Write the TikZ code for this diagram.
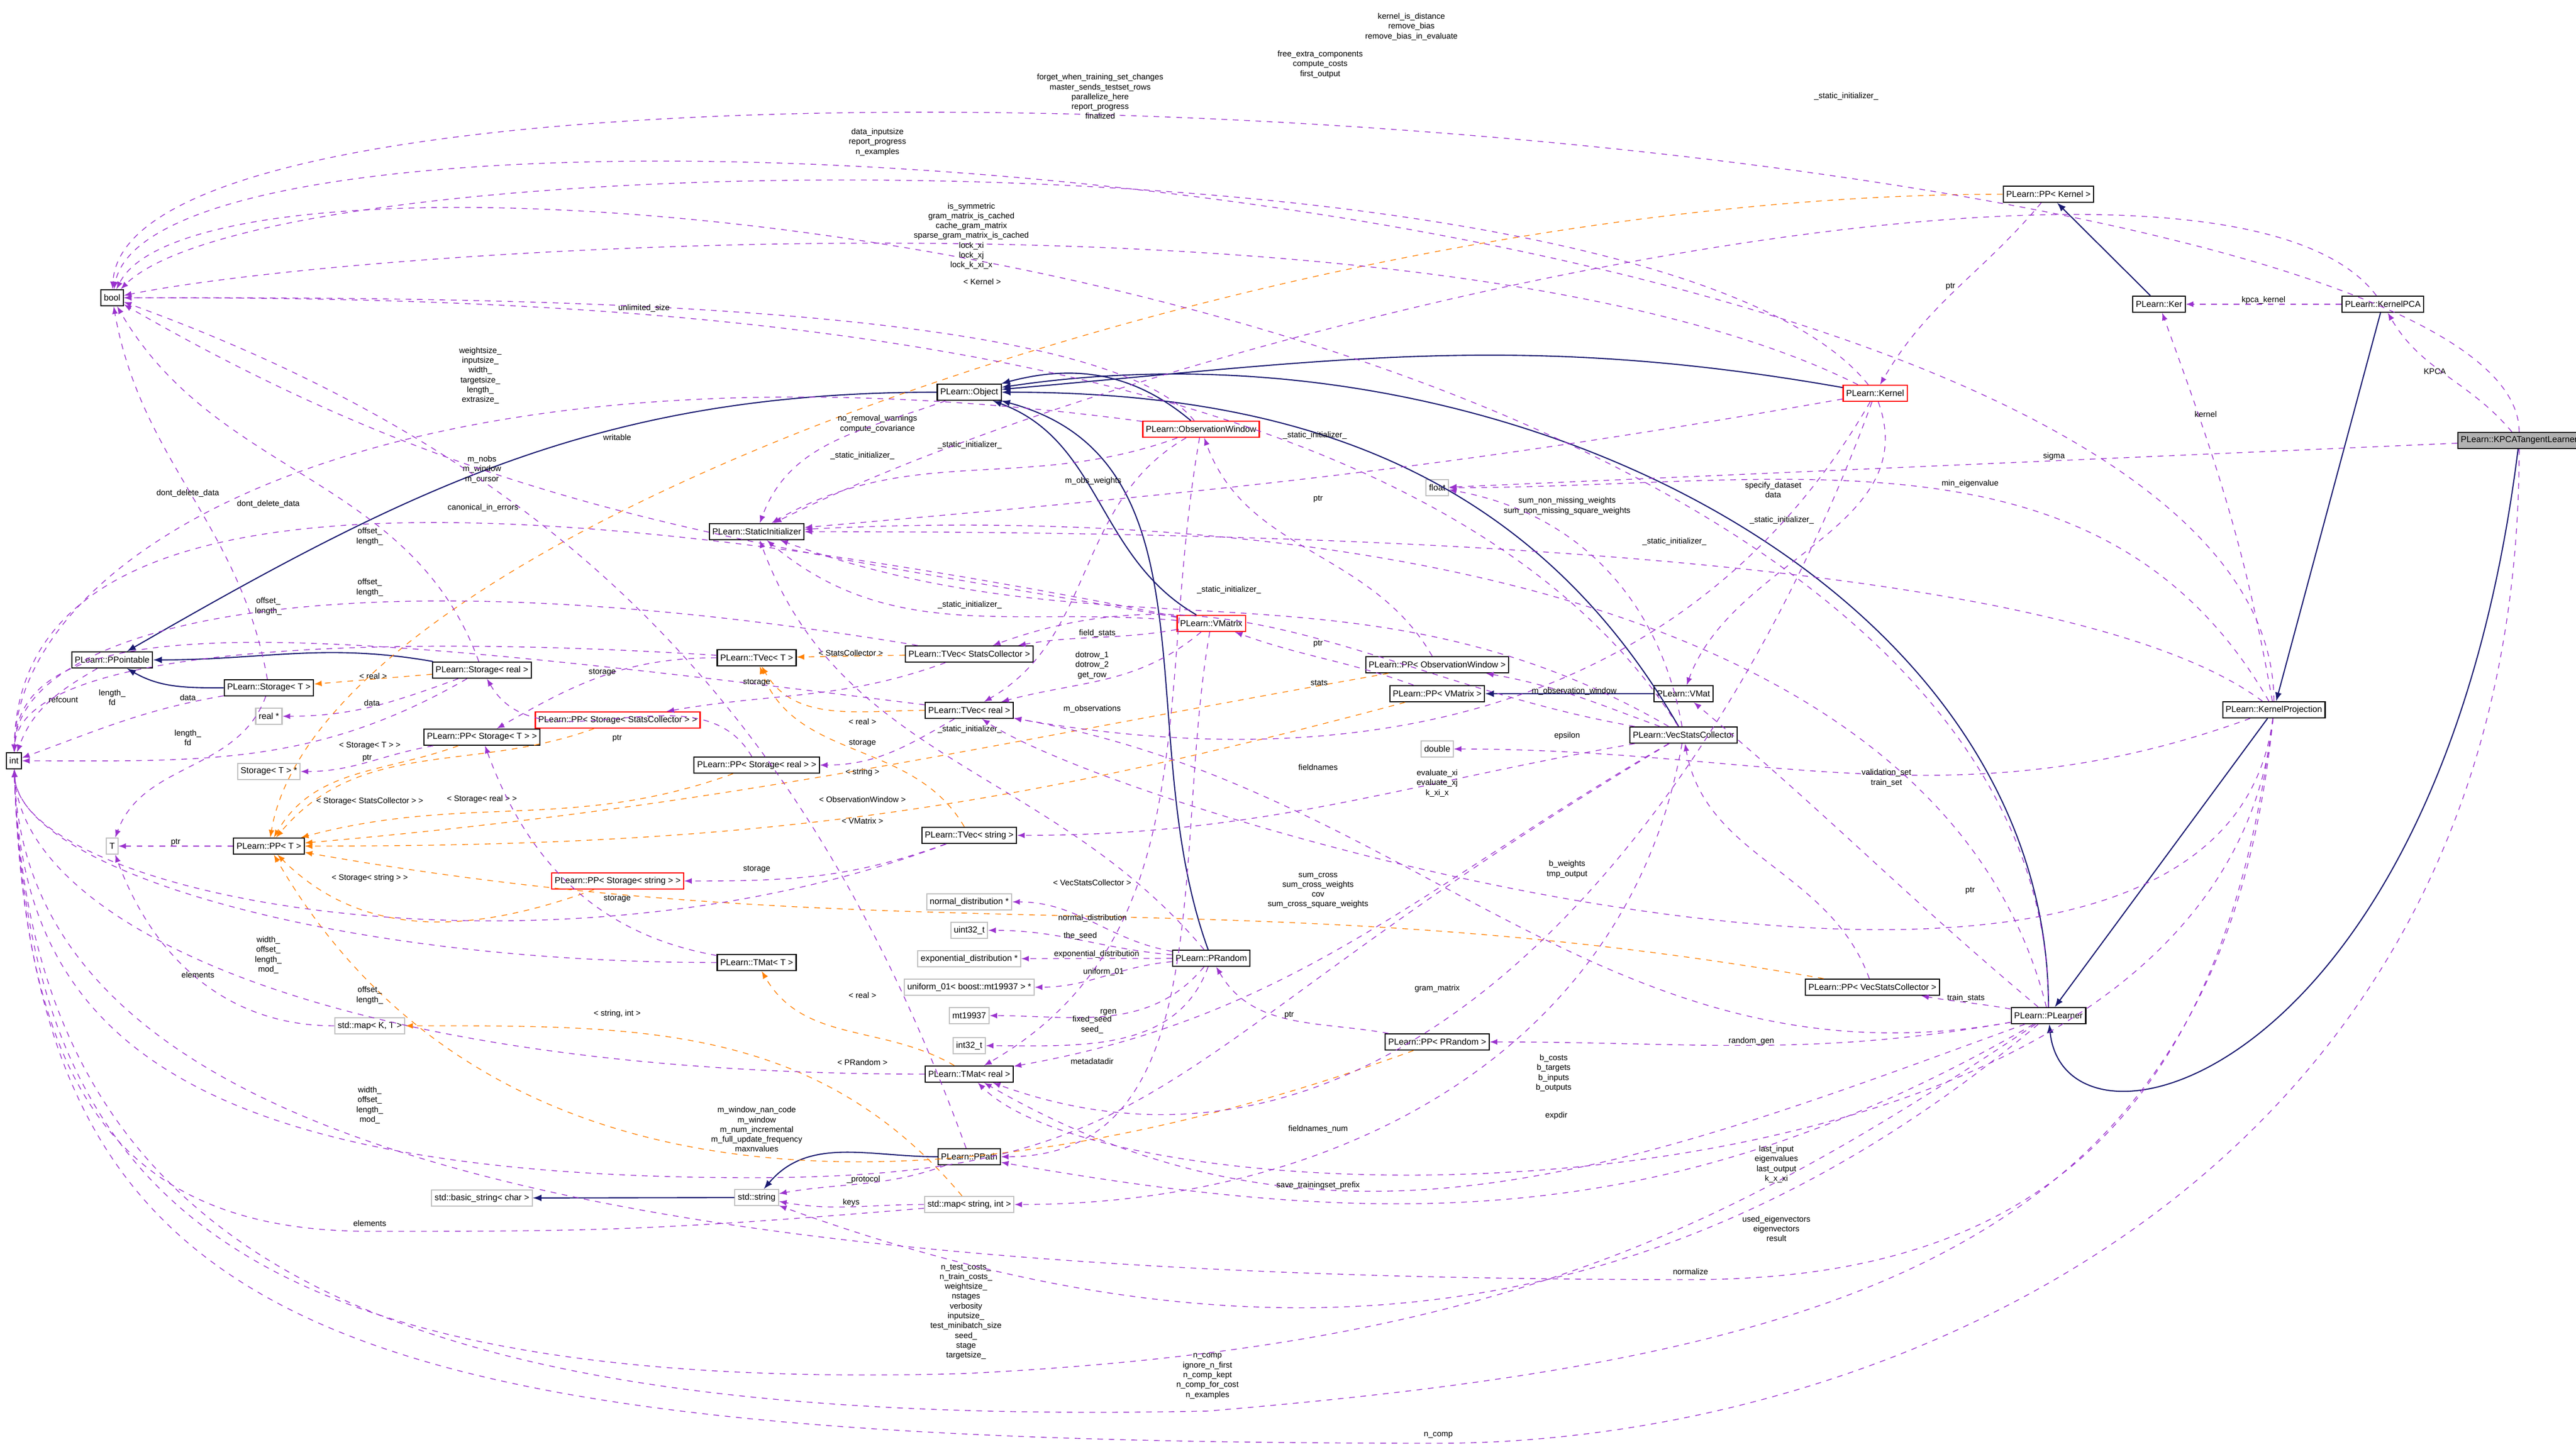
\documentclass[tikz,border=0pt]{standalone}
\usepackage{fontspec}
\setmainfont{Liberation Sans}
\usepackage{tikz}
\usetikzlibrary{arrows}
\begin{document}
\begin{tikzpicture}[>=latex]
  \tikzstyle{cls} = [rectangle, draw, semithick, inner sep=1.6pt, minimum height=0.3cm, font=\fontsize{4.6}{5.4}\selectfont]
  \tikzstyle{ext} = [cls, draw=black!25]
  \tikzstyle{bad} = [cls, draw=red]
  \tikzstyle{lbl} = [font=\fontsize{4.3}{5.2}\selectfont, align=center, inner sep=0pt]
  \tikzstyle{inh} = [draw={rgb,255:red,25;green,25;blue,112}, semithick, ->]
  \tikzstyle{use} = [draw={rgb,255:red,154;green,50;blue,205}, dashed, thin, ->]
  \tikzstyle{tpl} = [draw=orange, dashed, thin, ->]
  \useasboundingbox (0,0) rectangle (48,-26.97);
  % nodes, left columns
  \node (bool) [cls] at (2.09,-5.55) {bool};
  \node (int) [cls] at (0.26,-14.18) {int};
  \node (ppointable) [cls] at (2.09,-12.30) {PLearn::PPointable};
  \node (storageT) [cls] at (5.01,-12.82) {PLearn::Storage< T >};
  \node (storageReal) [cls] at (8.98,-12.49) {PLearn::Storage< real >};
  \node (realptr) [ext] at (5.01,-13.35) {real *};
  \node (ppStorageT) [cls] at (8.98,-13.74) {PLearn::PP< Storage< T > >};
  \node (storageTptr) [ext] at (5.01,-14.38) {Storage< T > *};
  \node (T) [ext] at (2.09,-15.77) {T};
  \node (ppT) [cls] at (5.01,-15.77) {PLearn::PP< T >};
  \node (mapKT) [ext] at (6.89,-19.12) {std::map< K, T >};
  \node (basicstr) [ext] at (8.98,-22.33) {std::basic\_string< char >};
  \node (ppStorageSC) [bad] at (11.51,-13.42) {PLearn::PP< Storage< StatsCollector > >};
  \node (ppStorageReal) [cls] at (14.10,-14.26) {PLearn::PP< Storage< real > >};
  \node (ppStorageStr) [bad] at (11.51,-16.42) {PLearn::PP< Storage< string > >};
  \node (tvecT) [cls] at (14.10,-12.26) {PLearn::TVec< T >};
  \node (staticInit) [cls] at (14.10,-9.91) {PLearn::StaticInitializer};
  \node (tmatT) [cls] at (14.10,-17.94) {PLearn::TMat< T >};
  \node (stdstring) [ext] at (14.10,-22.32) {std::string};
  % middle column
  \node (object) [cls] at (18.06,-7.31) {PLearn::Object};
  \node (tvecSC) [cls] at (18.06,-12.19) {PLearn::TVec< StatsCollector >};
  \node (tvecReal) [cls] at (18.06,-13.24) {PLearn::TVec< real >};
  \node (tvecStr) [cls] at (18.06,-15.57) {PLearn::TVec< string >};
  \node (normaldist) [ext] at (18.06,-16.81) {normal\_distribution *};
  \node (uint32) [ext] at (18.06,-17.34) {uint32\_t};
  \node (expdist) [ext] at (18.06,-17.87) {exponential\_distribution *};
  \node (uniform01) [ext] at (18.06,-18.40) {uniform\_01< boost::mt19937 > *};
  \node (mt19937) [ext] at (18.06,-18.93) {mt19937};
  \node (int32) [ext] at (18.06,-19.49) {int32\_t};
  \node (tmatReal) [cls] at (18.06,-20.02) {PLearn::TMat< real >};
  \node (ppath) [cls] at (18.06,-21.56) {PLearn::PPath};
  \node (mapStrInt) [ext] at (18.06,-22.45) {std::map< string, int >};
  \node (obsWin) [bad] at (22.38,-8.00) {PLearn::ObservationWindow};
  \node (vmatrix) [bad] at (22.57,-11.62) {PLearn::VMatrix};
  \node (prandom) [cls] at (22.57,-17.86) {PLearn::PRandom};
  \node (float) [ext] at (26.78,-9.09) {float};
  \node (ppObsWin) [cls] at (26.78,-12.39) {PLearn::PP< ObservationWindow >};
  \node (ppVMatrix) [cls] at (26.78,-12.93) {PLearn::PP< VMatrix >};
  \node (double) [ext] at (26.78,-13.96) {double};
  \node (ppPRandom) [cls] at (26.78,-19.42) {PLearn::PP< PRandom >};
  % right columns
  \node (vmat) [cls] at (31.37,-12.93) {PLearn::VMat};
  \node (vecSC) [cls] at (31.37,-13.70) {PLearn::VecStatsCollector};
  \node (kernel) [bad] at (34.94,-7.33) {PLearn::Kernel};
  \node (ppKernel) [cls] at (38.17,-3.62) {PLearn::PP< Kernel >};
  \node (ker) [cls] at (40.23,-5.67) {PLearn::Ker};
  \node (ppVecSC) [cls] at (34.89,-18.40) {PLearn::PP< VecStatsCollector >};
  \node (plearner) [cls] at (38.17,-18.93) {PLearn::PLearner};
  \node (kernelPCA) [cls] at (44.40,-5.67) {PLearn::KernelPCA};
  \node (kernelProj) [cls] at (42.37,-13.23) {PLearn::KernelProjection};
  \node (kpcatl) [cls, fill=black!30] at (46.94,-8.21) {PLearn::KPCATangentLearner};
  % inheritance
  \draw [inh] (object) to[out=180,in=30] (ppointable);
  \draw [inh] (storageReal) to[out=170,in=0] (ppointable);
  \draw [inh] (storageT) to[out=180,in=-30] (ppointable);
  \draw [inh] (obsWin) to[out=140,in=15] (object);
  \draw [inh] (vmatrix) to[out=150,in=-20] (object);
  \draw [inh] (kernel) to[out=170,in=5] (object);
  \draw [inh] (prandom) to[out=110,in=-15] (object);
  \draw [inh] (vecSC) to[out=120,in=0] (object);
  \draw [inh] (plearner) .. controls +(0,8) and +(10,1.5) .. (object);
  \draw [inh] (vmat) -- (ppVMatrix);
  \draw [inh] (ker) -- (ppKernel);
  \draw [inh] (kernelPCA) -- (kernelProj);
  \draw [inh] (kernelProj) -- (plearner);
  \draw [inh] (kpcatl) .. controls +(-1.5,-12) and +(0.3,-3) .. (plearner);
  \draw [inh] (ppath) to[out=180,in=50] (stdstring);
  \draw [inh] (stdstring) -- (basicstr);
  % template instances
  \draw [tpl] (storageReal) -- node[lbl, above]{< real >} (storageT);
  \draw [tpl] (ppStorageT) to[out=200,in=60] (ppT);
  \node [lbl] at (6.89,-13.90) {< Storage< T > >};
  \draw [tpl] (ppStorageSC) to[out=200,in=50] (ppT);
  \node [lbl] at (6.89,-14.94) {< Storage< StatsCollector > >};
  \draw [tpl] (ppStorageReal) to[out=200,in=15] (ppT);
  \node [lbl] at (8.98,-14.90) {< Storage< real > >};
  \draw [tpl] (ppStorageStr) to[out=200,in=-45] (ppT);
  \node [lbl] at (6.89,-16.37) {< Storage< string > >};
  \draw [tpl] (ppObsWin) to[out=190,in=5] (ppT);
  \node [lbl] at (16.07,-14.90) {< ObservationWindow >};
  \draw [tpl] (ppVMatrix) to[out=195,in=0] (ppT);
  \node [lbl] at (16.07,-15.30) {< VMatrix >};
  \draw [tpl] (ppPRandom) to[out=200,in=-60] (ppT);
  \node [lbl] at (16.07,-19.80) {< PRandom >};
  \draw [tpl] (ppVecSC) to[out=170,in=-10] (ppT);
  \node [lbl] at (20.35,-16.45) {< VecStatsCollector >};
  \draw [tpl] (ppKernel) .. controls +(-14,0) and +(1,6) .. (ppT);
  \node [lbl] at (18.30,-5.25) {< Kernel >};
  \draw [tpl] (tvecSC) -- node[lbl, above]{< StatsCollector >} (tvecT);
  \draw [tpl] (tvecReal) to[out=180,in=-60] (tvecT);
  \node [lbl] at (16.07,-13.45) {< real >};
  \draw [tpl] (tvecStr) to[out=120,in=-70] (tvecT);
  \node [lbl] at (16.07,-14.40) {< string >};
  \draw [tpl] (tmatReal) to[out=150,in=-60] (tmatT);
  \node [lbl] at (16.07,-18.55) {< real >};
  \draw [tpl] (mapStrInt) to[out=130,in=0] (mapKT);
  \node [lbl] at (11.50,-18.90) {< string, int >};
  % members: int
  \draw [use] (ppointable) to[out=-150,in=70] node[lbl, above right]{refcount} (int);
  \draw [use] (storageT) to[out=190,in=20] (int);
  \node [lbl] at (2.09,-13.00) {length\_\\fd};
  \draw [use] (storageReal) to[out=-150,in=0] (int);
  \node [lbl] at (3.50,-13.75) {length\_\\fd};
  \draw [use] (tvecT) .. controls +(-8,0.5) and +(0.1,2) .. (int);
  \node [lbl] at (5.00,-11.30) {offset\_\\length\_};
  \draw [use] (tvecSC) .. controls +(-12,2) and +(0.1,2.5) .. (int);
  \node [lbl] at (6.89,-10.00) {offset\_\\length\_};
  \draw [use] (tvecReal) .. controls +(-12,1.5) and +(0.1,3) .. (int);
  \node [lbl] at (6.89,-10.95) {offset\_\\length\_};
  \draw [use] (vmatrix) .. controls +(-15,3) and +(0.1,5) .. (int);
  \node [lbl] at (8.95,-7.00) {weightsize\_\\inputsize\_\\width\_\\targetsize\_\\length\_\\extrasize\_};
  \draw [use] (obsWin) .. controls +(-15,2) and +(0.1,4) .. (int);
  \node [lbl] at (8.98,-8.75) {m\_nobs\\m\_window\\m\_cursor};
  \draw [use] (tmatT) .. controls +(-8,0) and +(0.1,-2) .. (int);
  \node [lbl] at (5.00,-17.80) {width\_\\offset\_\\length\_\\mod\_};
  \draw [use] (tvecStr) .. controls +(-8,-3) and +(0.1,-2.5) .. (int);
  \node [lbl] at (6.89,-18.55) {offset\_\\length\_};
  \draw [use] (tmatReal) .. controls +(-12,0) and +(0.15,-3) .. (int);
  \node [lbl] at (6.89,-20.60) {width\_\\offset\_\\length\_\\mod\_};
  \draw [use] (vecSC) .. controls +(-10,-6) and +(8,0) .. (14,-21.95) .. controls (3,-21.95) and (0.4,-19) .. (int);
  \node [lbl] at (14.10,-21.05) {m\_window\_nan\_code\\m\_window\\m\_num\_incremental\\m\_full\_update\_frequency\\maxnvalues};
  \draw [use] (mapStrInt) .. controls +(-6,-0.5) and +(4,0) .. (6.89,-22.95) .. controls (2,-22.95) and (0.45,-20) .. (int);
  \node [lbl] at (6.89,-22.80) {elements};
  \draw [use] (kernelProj) .. controls +(-1,-8) and +(6,0) .. (31.5,-23.85) .. controls (10,-23.85) and (0.5,-21) .. (int);
  \node [lbl] at (31.50,-23.70) {normalize};
  \draw [use] (plearner) .. controls +(-6,-4) and +(10,0.5) .. (18,-25.6) .. controls (4,-26) and (0.55,-22) .. (int);
  \node [lbl] at (18.00,-24.45) {n\_test\_costs\_\\n\_train\_costs\_\\weightsize\_\\nstages\\verbosity\\inputsize\_\\test\_minibatch\_size\\seed\_\\stage\\targetsize\_};
  \draw [use] (kernelProj) .. controls +(-1,-10) and +(12,1) .. (22.5,-26.3) .. controls (8,-26.6) and (0.6,-24) .. (int);
  \node [lbl] at (22.50,-25.65) {n\_comp\\ignore\_n\_first\\n\_comp\_kept\\n\_comp\_for\_cost\\n\_examples};
  \draw [use] (kpcatl) .. controls +(0,-14) and +(8,0) .. (26.8,-26.9) .. controls (6,-26.9) and (0.65,-25) .. (int);
  \node [lbl] at (26.80,-26.75) {n\_comp};
  % members: bool
  \draw [use] (kpcatl) .. controls +(0,6) and +(0.3,6) .. (bool);
  \node [lbl] at (26.30,-0.50) {kernel\_is\_distance\\remove\_bias\\remove\_bias\_in\_evaluate};
  \draw [use] (kernelProj) .. controls +(0,10) and +(1,5) .. (bool);
  \node [lbl] at (24.60,-1.20) {free\_extra\_components\\compute\_costs\\first\_output};
  \draw [use] (plearner) .. controls +(0,14) and +(2,4) .. (bool);
  \node [lbl] at (20.50,-1.80) {forget\_when\_training\_set\_changes\\master\_sends\_testset\_rows\\parallelize\_here\\report\_progress\\finalized};
  \draw [use] (kernel) .. controls +(-4,5) and +(3,3) .. (bool);
  \node [lbl] at (16.35,-2.65) {data\_inputsize\\report\_progress\\n\_examples};
  \draw [use] (kernel) .. controls +(-8,4) and +(5,1) .. (bool);
  \node [lbl] at (18.10,-4.40) {is\_symmetric\\gram\_matrix\_is\_cached\\cache\_gram\_matrix\\sparse\_gram\_matrix\_is\_cached\\lock\_xi\\lock\_xj\\lock\_k\_xi\_x};
  \draw [use] (vecSC) .. controls +(-5,8) and +(8,0) .. (bool);
  \node [lbl] at (16.35,-7.90) {no\_removal\_warnings\\compute\_covariance};
  \draw [use] (obsWin) .. controls +(-2,2.5) and +(6,0) .. (bool);
  \node [lbl] at (12.00,-5.75) {unlimited\_size};
  \draw [use] (vmatrix) to[out=170,in=-30] (bool);
  \node [lbl] at (11.50,-8.15) {writable};
  \draw [use] (storageT) to[out=100,in=-80] (bool);
  \node [lbl] at (3.50,-9.20) {dont\_delete\_data};
  \draw [use] (storageReal) to[out=110,in=-60] (bool);
  \node [lbl] at (5.00,-9.40) {dont\_delete\_data};
  \draw [use] (ppath) to[out=110,in=-20] (bool);
  \node [lbl] at (9.00,-9.47) {canonical\_in\_errors};
  % members: static initializer
  \draw [use] (object) to[out=200,in=70] (staticInit);
  \node [lbl] at (16.07,-8.50) {\_static\_initializer\_};
  \draw [use] (obsWin) to[out=200,in=30] (staticInit);
  \node [lbl] at (18.07,-8.30) {\_static\_initializer\_};
  \draw [use] (kernel) to[out=190,in=5] (staticInit);
  \node [lbl] at (24.50,-8.12) {\_static\_initializer\_};
  \draw [use] (kernelPCA) .. controls +(-3,4) and +(8,4) .. (staticInit);
  \node [lbl] at (34.40,-1.80) {\_static\_initializer\_};
  \draw [use] (kernelProj) .. controls +(-4,3) and +(10,0) .. (staticInit);
  \node [lbl] at (31.20,-10.10) {\_static\_initializer\_};
  \draw [use] (plearner) .. controls +(-2,8) and +(10,0.5) .. (staticInit);
  \node [lbl] at (33.20,-9.70) {\_static\_initializer\_};
  \draw [use] (vmatrix) to[out=175,in=-40] (staticInit);
  \node [lbl] at (18.07,-11.28) {\_static\_initializer\_};
  \draw [use] (vecSC) to[out=150,in=-20] (staticInit);
  \node [lbl] at (22.90,-11.00) {\_static\_initializer\_};
  \draw [use] (prandom) to[out=130,in=-70] (staticInit);
  \node [lbl] at (18.07,-13.60) {\_static\_initializer\_};
  % members: storage and pointers
  \draw [use] (storageReal) to[out=-160,in=0] node[lbl, above]{data} (realptr);
  \draw [use] (storageT) to[out=-110,in=70] (T);
  \node [lbl] at (3.50,-13.00) {data};
  \draw [use] (ppStorageT) to[out=190,in=0] node[lbl, above]{ptr} (storageTptr);
  \draw [use] (ppT) -- node[lbl, above]{ptr} (T);
  \draw [use] (mapKT) to[out=180,in=-70] node[lbl, above]{elements} (T);
  \draw [use] (ppStorageReal) to[out=120,in=-60] (storageReal);
  \node [lbl] at (11.50,-13.76) {ptr};
  \draw [use] (tvecT) to[out=180,in=30] node[lbl, above]{storage} (ppStorageT);
  \draw [use] (tmatT) to[out=170,in=-70] (ppStorageT);
  \node [lbl] at (11.50,-16.75) {storage};
  \draw [use] (tvecSC) to[out=-160,in=10] (ppStorageSC);
  \node [lbl] at (14.10,-12.72) {storage};
  \draw [use] (tvecReal) to[out=-150,in=0] (ppStorageReal);
  \node [lbl] at (16.07,-13.85) {storage};
  \draw [use] (tvecStr) to[out=-160,in=0] (ppStorageStr);
  \node [lbl] at (14.10,-16.20) {storage};
  \draw [use] (ppath) to[out=200,in=10] node[lbl, above]{\_protocol} (stdstring);
  \draw [use] (mapStrInt) to[out=180,in=-10] node[lbl, above]{keys} (stdstring);
  % members: PRandom and friends
  \draw [use] (prandom) to[out=170,in=0] node[lbl, above]{normal\_distribution} (normaldist);
  \draw [use] (prandom) to[out=175,in=0] node[lbl, above]{the\_seed} (uint32);
  \draw [use] (prandom) -- node[lbl, above]{exponential\_distribution} (expdist);
  \draw [use] (prandom) to[out=185,in=0] node[lbl, above]{uniform\_01} (uniform01);
  \draw [use] (prandom) to[out=-130,in=0] node[lbl, above]{rgen} (mt19937);
  \draw [use] (prandom) to[out=-110,in=0] (int32);
  \node [lbl] at (20.35,-19.10) {fixed\_seed\\seed\_};
  \draw [use] (vmatrix) to[out=-100,in=0] (ppath);
  \node [lbl] at (20.35,-19.78) {metadatadir};
  \draw [use] (ppPRandom) to[out=170,in=-60] node[lbl, above]{ptr} (prandom);
  \draw [use] (plearner) to[out=190,in=0] node[lbl, above]{random\_gen} (ppPRandom);
  % members: vectors and matrices
  \draw [use] (obsWin) to[out=-150,in=30] (tvecReal);
  \node [lbl] at (20.37,-8.97) {m\_obs\_weights};
  \draw [use] (vmatrix) to[out=190,in=10] node[lbl, above]{field\_stats} (tvecSC);
  \draw [use] (vmatrix) to[out=-140,in=15] (tvecReal);
  \node [lbl] at (20.35,-12.40) {dotrow\_1\\dotrow\_2\\get\_row};
  \draw [use] (obsWin) to[out=-100,in=30] (tmatReal);
  \node [lbl] at (20.35,-13.22) {m\_observations};
  \draw [use] (vecSC) to[out=170,in=20] (tvecSC);
  \node [lbl] at (24.58,-12.73) {stats};
  \draw [use] (vecSC) to[out=190,in=0] (tvecStr);
  \node [lbl] at (24.56,-14.30) {fieldnames};
  \draw [use] (kernel) to[out=-120,in=-10] (tvecReal);
  \node [lbl] at (26.78,-14.60) {evaluate\_xi\\evaluate\_xj\\k\_xi\_x};
  \draw [use] (vecSC) to[out=-150,in=10] (tmatReal);
  \node [lbl] at (24.56,-16.60) {sum\_cross\\sum\_cross\_weights\\cov\\sum\_cross\_square\_weights};
  \draw [use] (kernel) to[out=-110,in=-20] (tmatReal);
  \node [lbl] at (26.78,-18.43) {gram\_matrix};
  \draw [use] (plearner) to[out=190,in=-10] (tvecReal);
  \node [lbl] at (29.20,-16.20) {b\_weights\\tmp\_output};
  \draw [use] (plearner) to[out=200,in=-30] (tmatReal);
  \node [lbl] at (28.95,-20.00) {b\_costs\\b\_targets\\b\_inputs\\b\_outputs};
  \draw [use] (plearner) to[out=210,in=-10] (ppath);
  \node [lbl] at (29.00,-20.80) {expdir};
  \draw [use] (vecSC) to[out=-100,in=0] (mapStrInt);
  \node [lbl] at (24.56,-21.05) {fieldnames\_num};
  \draw [use] (plearner) to[out=220,in=-20] (stdstring);
  \node [lbl] at (24.56,-22.10) {save\_trainingset\_prefix};
  \draw [use] (kernelProj) .. controls +(-1,-8) and +(3,-2) .. (tvecReal);
  \node [lbl] at (33.10,-21.70) {last\_input\\eigenvalues\\last\_output\\k\_x\_xi};
  \draw [use] (kernelProj) .. controls +(-1,-10) and +(3,-3) .. (tmatReal);
  \node [lbl] at (33.10,-22.90) {used\_eigenvectors\\eigenvectors\\result};
  % members: right part
  \draw [use] (ppObsWin) to[out=120,in=-70] (obsWin);
  \node [lbl] at (24.56,-9.30) {ptr};
  \draw [use] (ppVMatrix) to[out=160,in=-20] (vmatrix);
  \node [lbl] at (24.56,-12.00) {ptr};
  \draw [use] (vecSC) to[out=160,in=-10] node[lbl, above]{m\_observation\_window} (ppObsWin);
  \draw [use] (kernelProj) to[out=200,in=0] (double);
  \node [lbl] at (29.20,-13.72) {epsilon};
  \draw [use] (vecSC) to[out=100,in=-10] (float);
  \node [lbl] at (29.20,-9.43) {sum\_non\_missing\_weights\\sum\_non\_missing\_square\_weights};
  \draw [use] (kpcatl) -- node[lbl, above, pos=0.4]{sigma} (float);
  \draw [use] (kernelProj) to[out=120,in=0] (float);
  \node [lbl] at (36.71,-9.02) {min\_eigenvalue};
  \draw [use] (kernel) to[out=-70,in=70] (vmat);
  \node [lbl] at (33.04,-9.13) {specify\_dataset\\data};
  \draw [use] (plearner) to[out=140,in=-40] (vmat);
  \node [lbl] at (35.15,-14.50) {validation\_set\\train\_set};
  \draw [use] (ppKernel) to[out=-130,in=60] node[lbl, above left]{ptr} (kernel);
  \draw [use] (kernelPCA) -- node[lbl, above]{kpca\_kernel} (ker);
  \draw [use] (kpcatl) to[out=130,in=-60] node[lbl, above left]{KPCA} (kernelPCA);
  \draw [use] (kernelProj) to[out=100,in=-70] (ker);
  \node [lbl] at (41.10,-7.72) {kernel};
  \draw [use] (ppVecSC) to[out=110,in=-80] (vecSC);
  \node [lbl] at (36.71,-16.60) {ptr};
  \draw [use] (plearner) to[out=170,in=-10] node[lbl, above]{train\_stats} (ppVecSC);
\end{tikzpicture}
\end{document}
